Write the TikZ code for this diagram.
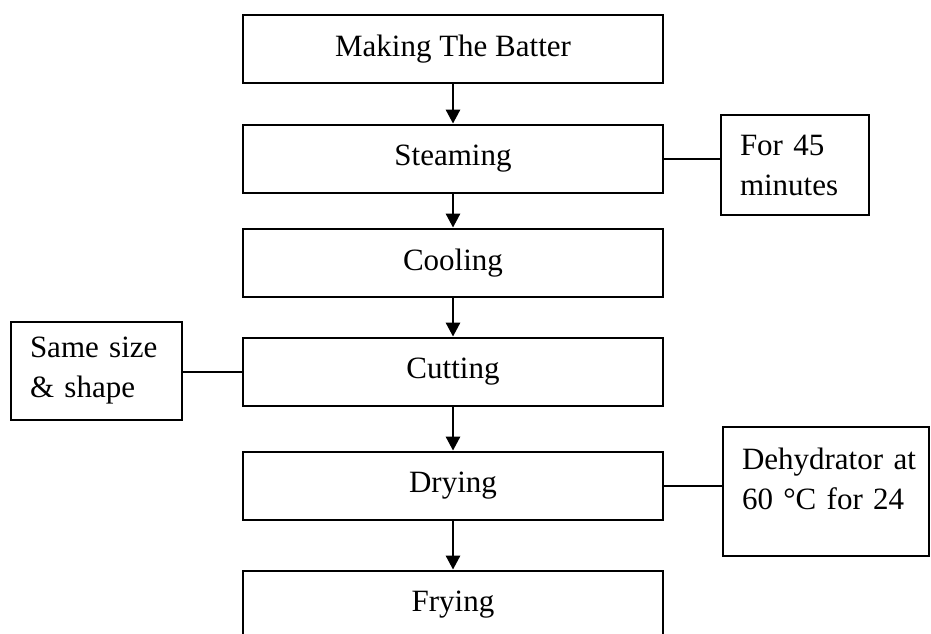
\documentclass[tikz,border=0pt]{standalone}
\usepackage{fontspec}
\setmainfont{Liberation Serif}
\usetikzlibrary{arrows.meta}
\begin{document}
\begin{tikzpicture}[x=1pt,y=-1pt,>={Triangle[length=14pt,width=14pt]}, line width=2.8pt,
		font=\fontsize{31}{40}\selectfont,
		stage/.style={draw,minimum width=420pt,minimum height=68pt,inner sep=0pt},
		note/.style={draw,align=left,inner xsep=19pt,inner ysep=0pt}]
		\useasboundingbox (0,0) rectangle (931,634);
		\def\xc{453}
		% main stages
		\node[stage] (making) at (\xc,49) {Making The Batter};
		\node[stage] (steaming) at (\xc,159) {Steaming};
		\node[stage] (cooling) at (\xc,263) {Cooling};
		\node[stage] (cutting) at (\xc,372) {Cutting};
		\node[stage] (drying) at (\xc,486) {Drying};
		\node[stage] (frying) at (\xc,605) {Frying};
		\foreach \a/\b in {making/steaming,steaming/cooling,cooling/cutting,cutting/drying,drying/frying}
		\draw[->] (\a) -- (\b);
		% side notes
		\node[note,text width=110pt,minimum height=100pt] (time) at (795,165) {For 45\\minutes};
		\node[note,text width=133pt,minimum height=98pt] (size) at (96.5,371) {Same size\\\& shape};
		\node[note,text width=168pt,minimum height=129pt] (dryer) at (826,491.5) {\mbox{Dehydrator at}\\60 °C for 24\\[-14pt]\mbox{}};
		\draw (steaming.east) -- (steaming.east -| time.west);
		\draw (cutting.west) -- (cutting.west -| size.east);
		\draw (drying.east) -- (drying.east -| dryer.west);
\end{tikzpicture}
\end{document}
